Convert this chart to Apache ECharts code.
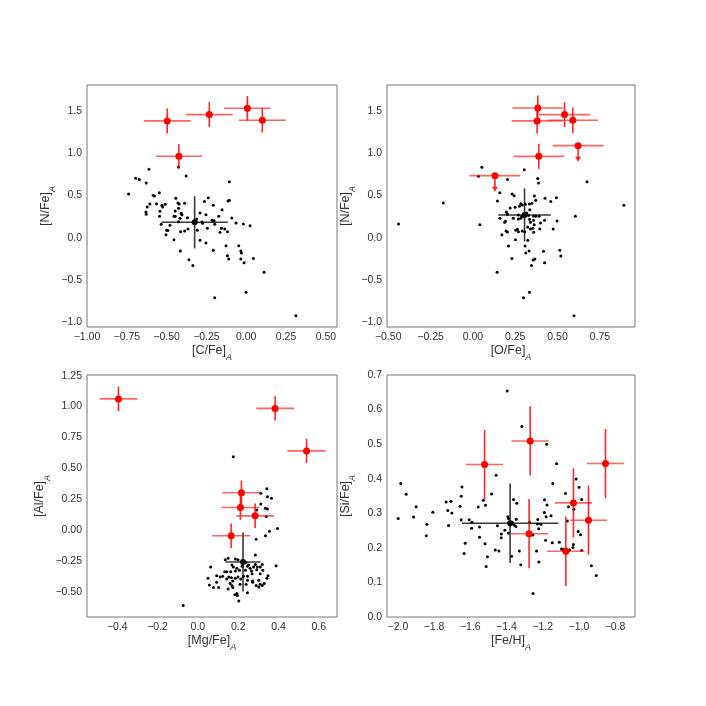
<!DOCTYPE html>
<html><head><meta charset="utf-8">
<script src="https://cdn.jsdelivr.net/npm/echarts@6/dist/echarts.min.js"></script>
<style>html,body{margin:0;padding:0;background:#fff}#c{width:706px;height:706px}</style>
</head><body><div id="c"></div>
<script>
// ---------- tick labels ----------
const cTicks = [-1.0,-0.75,-0.5,-0.25,0,0.25,0.5];
const nTicks = [-1.0,-0.5,0,0.5,1.0,1.5];
const oTicks = [-0.5,-0.25,0,0.25,0.5,0.75];
const mgTicks = [-0.4,-0.2,0,0.2,0.4,0.6];
const alTicks = [-0.5,-0.25,0,0.25,0.5,0.75,1.0,1.25];
const feTicks = [-2.0,-1.8,-1.6,-1.4,-1.2,-1.0,-0.8];
const siTicks = [0,0.1,0.2,0.3,0.4,0.5,0.6,0.7];

// ---------- panel 1: [C/Fe] vs [N/Fe] ----------
const cnBlack = [[-0.611,0.810],[-0.425,0.838],[-0.377,0.731],[-0.695,0.703],[-0.672,0.688],[-0.628,0.648],[-0.106,0.664],[-0.739,0.518],[-0.546,0.533],[-0.584,0.502],[-0.576,0.494],[-0.442,0.466],[-0.238,0.474],[-0.263,0.427],[-0.106,0.443],[-0.114,0.435],[-0.605,0.399],[-0.622,0.363],[-0.563,0.403],[-0.530,0.383],[-0.509,0.395],[-0.525,0.363],[-0.429,0.411],[-0.421,0.399],[-0.387,0.407],[-0.207,0.383],[-0.542,0.312],[-0.630,0.304],[-0.628,0.276],[-0.446,0.316],[-0.425,0.348],[-0.408,0.288],[-0.404,0.272],[-0.454,0.253],[-0.446,0.253],[-0.416,0.229],[-0.370,0.237],[-0.290,0.292],[-0.253,0.272],[-0.152,0.332],[-0.173,0.253],[-0.544,0.253],[-0.311,0.221],[-0.278,0.186],[-0.274,0.170],[-0.215,0.205],[-0.202,0.201],[-0.198,0.158],[-0.091,0.233],[-0.064,0.174],[-0.018,0.162],[0.024,0.142],[-0.479,0.146],[-0.534,0.158],[-0.425,0.189],[-0.500,0.087],[-0.492,0.083],[-0.504,0.035],[-0.412,0.071],[-0.387,0.079],[-0.366,0.102],[-0.307,0.087],[-0.244,0.110],[-0.165,0.063],[-0.156,0.110],[-0.135,0.102],[-0.118,0.071],[-0.454,-0.024],[-0.290,-0.032],[-0.253,-0.064],[-0.414,-0.158],[-0.207,-0.151],[-0.127,-0.095],[-0.047,-0.095],[-0.034,-0.158],[-0.030,-0.182],[-0.118,-0.214],[-0.110,-0.253],[-0.034,-0.253],[0.045,-0.249],[-0.014,-0.297],[-0.360,-0.261],[-0.335,-0.332],[0.112,-0.412],[-0.001,-0.649],[-0.198,-0.712],[0.312,-0.926]];
const cnRed = [[-0.496,1.384,0.147,0.148],[-0.232,1.459,0.147,0.148],[0.007,1.534,0.147,0.146],[0.101,1.392,0.147,0.146],[-0.423,0.965,0.145,0.146]];
const cnMean = [[-0.324,0.182,0.208,0.31]];

// ---------- panel 2: [O/Fe] vs [N/Fe] ----------
const onBlack = [[0.053,0.834],[0.303,0.806],[0.033,0.727],[0.383,0.700],[0.387,0.648],[0.204,0.688],[0.674,0.664],[0.159,0.533],[0.232,0.518],[0.244,0.498],[-0.175,0.411],[0.145,0.435],[0.363,0.494],[0.371,0.443],[0.426,0.466],[0.460,0.427],[0.493,0.474],[0.891,0.383],[0.283,0.403],[0.291,0.387],[0.310,0.395],[0.334,0.399],[0.348,0.407],[0.220,0.352],[0.249,0.360],[0.198,0.304],[0.204,0.276],[0.275,0.371],[0.336,0.332],[0.269,0.269],[0.289,0.253],[0.318,0.292],[0.328,0.261],[0.358,0.257],[0.371,0.253],[0.391,0.253],[0.159,0.229],[0.188,0.182],[0.192,0.193],[0.238,0.229],[0.269,0.221],[0.283,0.229],[0.334,0.217],[0.358,0.205],[0.340,0.182],[0.362,0.154],[0.399,0.174],[0.423,0.205],[0.497,0.197],[0.605,0.253],[-0.439,0.162],[0.041,0.154],[0.196,0.079],[0.204,0.067],[0.171,0.035],[0.253,0.087],[0.263,0.099],[0.269,0.071],[0.291,0.079],[0.306,0.071],[0.324,0.126],[0.340,0.102],[0.354,0.110],[0.359,0.063],[0.395,0.102],[0.474,0.102],[0.251,-0.024],[0.324,-0.032],[0.210,-0.099],[0.308,-0.099],[0.312,-0.182],[0.332,-0.158],[0.417,-0.162],[0.513,-0.151],[0.519,-0.218],[0.230,-0.249],[0.356,-0.265],[0.366,-0.253],[0.423,-0.297],[0.346,-0.332],[0.143,-0.412],[0.334,-0.649],[0.299,-0.712],[0.597,-0.926]];
const onRed = [[0.383,1.538,0.15,0.148],[0.541,1.459,0.15,0.148],[0.379,1.384,0.15,0.148],[0.590,1.392,0.15,0.15],[0.389,0.964,0.15,0.148]];
const onRedLimit = [[0.621,1.091,0.15,0.18],[0.130,0.735,0.15,0.18]];
const onMean = [[0.305,0.269,0.155,0.316]];

// ---------- panel 3: [Mg/Fe] vs [Al/Fe] ----------
const mgBlack = [[0.176,0.594],[0.342,0.336],[0.312,0.299],[0.345,0.272],[0.365,0.259],[0.312,0.213],[0.335,0.178],[0.345,0.173],[0.292,0.165],[0.339,0.111],[0.395,0.015],[0.355,-0.007],[0.335,-0.044],[0.289,-0.071],[0.285,-0.200],[0.150,-0.226],[0.136,-0.237],[0.186,-0.232],[0.199,-0.237],[0.216,-0.253],[0.239,-0.259],[0.252,-0.280],[0.285,-0.275],[0.319,-0.275],[0.169,-0.280],[0.176,-0.296],[0.193,-0.307],[0.219,-0.291],[0.246,-0.291],[0.259,-0.307],[0.276,-0.296],[0.295,-0.296],[0.309,-0.296],[0.063,-0.296],[0.388,-0.285],[0.133,-0.334],[0.143,-0.334],[0.163,-0.334],[0.186,-0.328],[0.206,-0.323],[0.236,-0.323],[0.266,-0.328],[0.292,-0.318],[0.322,-0.323],[0.093,-0.366],[0.110,-0.377],[0.123,-0.371],[0.153,-0.377],[0.166,-0.382],[0.186,-0.387],[0.199,-0.377],[0.226,-0.371],[0.246,-0.371],[0.269,-0.350],[0.309,-0.350],[0.348,-0.366],[0.050,-0.387],[0.143,-0.393],[0.173,-0.409],[0.213,-0.393],[0.246,-0.403],[0.272,-0.409],[0.302,-0.403],[0.342,-0.387],[0.093,-0.419],[0.160,-0.430],[0.169,-0.446],[0.209,-0.436],[0.239,-0.436],[0.272,-0.419],[0.309,-0.436],[0.329,-0.430],[0.057,-0.441],[0.077,-0.462],[0.103,-0.462],[0.173,-0.462],[0.289,-0.446],[0.302,-0.457],[0.319,-0.446],[0.150,-0.473],[0.183,-0.521],[0.193,-0.511],[0.246,-0.505],[0.196,-0.527],[0.203,-0.570],[-0.073,-0.607]];
const mgRed = [[-0.394,1.062,0.094,0.10],[0.383,0.985,0.094,0.098],[0.539,0.642,0.095,0.098],[0.216,0.304,0.094,0.099],[0.211,0.184,0.094,0.099],[0.284,0.117,0.094,0.099],[0.165,-0.044,0.095,0.099]];
const mgMean = [[0.224,-0.256,0.086,0.238]];

// ---------- panel 4: [Fe/H] vs [Si/Fe] ----------
const feBlack = [[-1.396,0.654],[-1.315,0.551],[-1.178,0.500],[-1.123,0.443],[-1.457,0.410],[-1.984,0.386],[-1.646,0.376],[-1.144,0.386],[-1.015,0.399],[-1.954,0.355],[-1.482,0.356],[-1.650,0.349],[-1.528,0.338],[-1.733,0.333],[-1.707,0.335],[-1.516,0.323],[-1.656,0.320],[-1.556,0.318],[-1.899,0.319],[-1.361,0.340],[-1.343,0.329],[-1.074,0.357],[-0.999,0.375],[-0.985,0.340],[-1.190,0.339],[-1.176,0.324],[-1.057,0.319],[-1.028,0.312],[-1.807,0.303],[-1.724,0.308],[-1.702,0.301],[-1.191,0.302],[-1.181,0.290],[-1.998,0.285],[-1.913,0.289],[-1.840,0.268],[-1.720,0.265],[-1.650,0.281],[-1.606,0.281],[-1.591,0.274],[-1.549,0.260],[-1.593,0.257],[-1.450,0.264],[-1.392,0.290],[-1.389,0.285],[-1.346,0.283],[-1.368,0.274],[-1.358,0.266],[-1.348,0.262],[-1.273,0.274],[-1.227,0.282],[-1.229,0.269],[-1.210,0.268],[-1.222,0.255],[-1.154,0.293],[-1.064,0.278],[-1.843,0.235],[-1.428,0.240],[-1.409,0.251],[-1.429,0.229],[-1.390,0.243],[-1.254,0.237],[-1.549,0.231],[-1.184,0.222],[-1.108,0.216],[-1.004,0.247],[-0.991,0.238],[-1.628,0.213],[-1.518,0.212],[-1.634,0.184],[-1.462,0.194],[-1.442,0.191],[-1.329,0.191],[-1.234,0.191],[-1.147,0.215],[-1.096,0.197],[-1.086,0.195],[-1.052,0.194],[-1.030,0.210],[-1.033,0.201],[-0.985,0.192],[-1.505,0.174],[-1.372,0.176],[-1.512,0.146],[-1.321,0.151],[-1.221,0.159],[-0.931,0.148],[-0.904,0.120],[-1.253,0.068]];
const feRed = [[-1.521,0.441,0.103,0.10],[-1.269,0.509,0.103,0.10],[-0.853,0.444,0.103,0.10],[-1.030,0.330,0.103,0.10],[-0.947,0.280,0.103,0.10],[-1.275,0.241,0.105,0.10],[-1.072,0.190,0.103,0.10]];
const feMean = [[-1.380,0.271,0.266,0.115]];

// ---------- styling helpers ----------
const FONT = 'Liberation Sans';
const TXT = '#333';
function fmt(d){ return function(v){ if (Math.abs(v) < 1e-9) return (0).toFixed(d); return (v<0?'\u2212':'') + Math.abs(v).toFixed(d); }; }
function title(t){ return '{n|' + t + '}{s|A}'; }
const nameStyle = { rich: {
  n: {fontSize: 12.5, fontFamily: FONT, color: TXT, lineHeight: 18, verticalAlign: 'top'},
  s: {fontSize: 9, fontFamily: FONT, fontStyle: 'italic', color: TXT, lineHeight: 9, verticalAlign: 'bottom'}
}};
function xAx(gi, min, max, ticks, dec, name){
  return {type:'value', gridIndex: gi, min, max, name: title(name), nameLocation:'middle', nameGap: 17,
    nameTextStyle: nameStyle, axisLine:{show:false}, axisTick:{show:false}, splitLine:{show:false},
    axisLabel:{customValues: ticks, formatter: fmt(dec), fontSize: 10.5, fontFamily: FONT, color: TXT, margin: 5}};
}
function yAx(gi, min, max, ticks, dec, name){
  return {type:'value', gridIndex: gi, min, max, name: title(name), nameLocation:'middle', nameGap: 30,
    nameTextStyle: nameStyle, axisLine:{show:false}, axisTick:{show:false}, splitLine:{show:false},
    axisLabel:{customValues: ticks, formatter: fmt(dec), fontSize: 10.5, fontFamily: FONT, color: TXT, margin: 5}};
}
function errSeries(data, gi, hColor, vColor, isLimit, z){
  return {type:'custom', xAxisIndex: gi, yAxisIndex: gi, data, z, silent: true,
    encode: {x: 0, y: 1},
    renderItem: function(params, api){
      const x = api.value(0), y = api.value(1), ex = api.value(2), ey = api.value(3);
      const l = api.coord([x-ex, y]), r = api.coord([x+ex, y]);
      const ch = [{type:'line', shape:{x1:l[0], y1:l[1], x2:r[0], y2:r[1]}, style:{stroke:hColor, lineWidth:1.6}}];
      if (isLimit) {
        const t = api.coord([x, y]), b = api.coord([x, y-ey]);
        ch.push({type:'line', shape:{x1:t[0], y1:t[1], x2:b[0], y2:b[1]-3}, style:{stroke:vColor, lineWidth:1.6}});
        ch.push({type:'polygon', shape:{points:[[b[0]-3, b[1]-4],[b[0]+3, b[1]-4],[b[0], b[1]+1]]}, style:{fill:vColor}});
      } else {
        const t = api.coord([x, y+ey]), b = api.coord([x, y-ey]);
        ch.push({type:'line', shape:{x1:t[0], y1:t[1], x2:b[0], y2:b[1]}, style:{stroke:vColor, lineWidth:1.6}});
      }
      return {type:'group', children: ch};
    }};
}
function dots(data, gi, color, size, z){
  return {type:'scatter', xAxisIndex: gi, yAxisIndex: gi, data: data.map(d => [d[0], d[1]]), symbol:'circle',
    symbolSize: size, itemStyle:{color, opacity:1}, z, silent:true};
}
const RH = 'rgba(255,40,40,0.72)', RV = 'rgba(255,0,0,0.85)', KH = 'rgba(0,0,0,0.78)', KV = 'rgba(0,0,0,0.78)';

const option = {
  animation: false,
  backgroundColor: '#fff',
  grid: [
    {left: 87, top: 85, width: 250, height: 242, show: true, borderColor: '#777', borderWidth: 1},
    {left: 387, top: 85, width: 248, height: 242, show: true, borderColor: '#777', borderWidth: 1},
    {left: 87, top: 375, width: 250, height: 242, show: true, borderColor: '#777', borderWidth: 1},
    {left: 387, top: 375, width: 248, height: 242, show: true, borderColor: '#777', borderWidth: 1}
  ],
  xAxis: [
    xAx(0, -1.0, 0.57, cTicks, 2, '[C/Fe]'),
    xAx(1, -0.507, 0.957, oTicks, 2, '[O/Fe]'),
    xAx(2, -0.55, 0.69, mgTicks, 1, '[Mg/Fe]'),
    xAx(3, -2.06, -0.69, feTicks, 1, '[Fe/H]')
  ],
  yAxis: [
    yAx(0, -1.06, 1.81, nTicks, 1, '[N/Fe]'),
    yAx(1, -1.06, 1.81, nTicks, 1, '[N/Fe]'),
    yAx(2, -0.70, 1.255, alTicks, 2, '[Al/Fe]'),
    yAx(3, 0, 0.7, siTicks, 1, '[Si/Fe]')
  ],
  series: [
    dots(cnBlack, 0, '#000', 3, 2), errSeries(cnMean, 0, KH, KV, false, 3), dots(cnMean, 0, '#000', 6, 4),
    errSeries(cnRed, 0, RH, RV, false, 5), dots(cnRed, 0, '#ff0000', 7, 6),

    dots(onBlack, 1, '#000', 3, 2), errSeries(onMean, 1, KH, KV, false, 3), dots(onMean, 1, '#000', 6, 4),
    errSeries(onRed, 1, RH, RV, false, 5), errSeries(onRedLimit, 1, RH, RV, true, 5),
    dots(onRed, 1, '#ff0000', 7, 6), dots(onRedLimit, 1, '#ff0000', 7, 6),

    dots(mgBlack, 2, '#000', 3, 2), errSeries(mgMean, 2, KH, KV, false, 3), dots(mgMean, 2, '#000', 6, 4),
    errSeries(mgRed, 2, RH, RV, false, 5), dots(mgRed, 2, '#ff0000', 7, 6),

    dots(feBlack, 3, '#000', 3, 2), errSeries(feMean, 3, KH, KV, false, 3), dots(feMean, 3, '#000', 6, 4),
    errSeries(feRed, 3, RH, RV, false, 5), dots(feRed, 3, '#ff0000', 7, 6)
  ]
};
const chart = echarts.init(document.getElementById('c'), null, {renderer: 'canvas'});
chart.setOption(option);
</script>
</body></html>
